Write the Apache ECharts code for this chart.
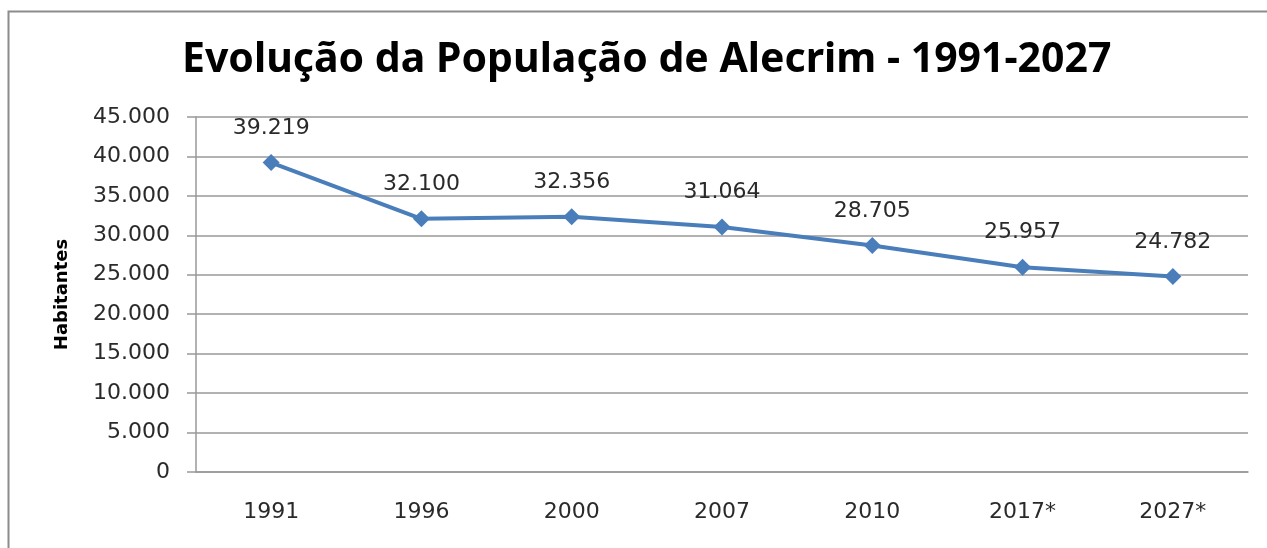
<!DOCTYPE html>
<html>
<head>
<meta charset="utf-8">
<script src="https://cdn.jsdelivr.net/npm/echarts@6/dist/echarts.min.js"></script>
<style>
  html, body { margin: 0; padding: 0; background: #fff; }
  #chart { width: 1267px; height: 548px; }
</style>
</head>
<body>
<div id="chart"></div>
<script>
/* dados */
let anos = ['1991', '1996', '2000', '2007', '2010', '2017*', '2027*'];
let habitantes = [39219, 32100, 32356, 31064, 28705, 25957, 24782];

let fmt = function (v) {
    return String(v).replace(/\B(?=(\d{3})+(?!\d))/g, '.');
};

let myChart = echarts.init(document.getElementById('chart'));
let options = {
    animation: false,
    graphic: [
        {
            type: 'rect',
            shape: { x: 8.5, y: 11.5, width: 1300, height: 600 },
            style: { fill: 'none', stroke: '#8c8c8c', lineWidth: 2 }
        }
    ],
    title: {
        text: 'Evolução da População de Alecrim - 1991-2027',
        left: 177,
        top: 35,
        textStyle: {
            fontFamily: 'Noto Sans',
            fontWeight: 'bold',
            fontSize: 41,
            color: '#000'
        }
    },
    grid: {
        left: 196,
        right: 19,
        top: 117,
        bottom: 76
    },
    xAxis: {
        type: 'category',
        data: anos,
        boundaryGap: true,
        axisLine: { lineStyle: { color: '#999', width: 1.5 } },
        axisTick: { length: 8, lineStyle: { color: '#999', width: 1.5 } },
        axisLabel: {
            margin: 29,
            fontFamily: 'DejaVu Sans',
            fontSize: 22,
            color: '#2a2a2a'
        }
    },
    yAxis: {
        type: 'value',
        min: 0,
        max: 45000,
        interval: 5000,
        name: 'Habitantes',
        nameLocation: 'middle',
        nameGap: 125,
        nameTextStyle: {
            fontFamily: 'DejaVu Sans',
            fontWeight: 'bold',
            fontSize: 18,
            color: '#000'
        },
        axisLine: { show: true, lineStyle: { color: '#999', width: 1.5 } },
        axisTick: { show: true, length: 9, lineStyle: { color: '#999', width: 1.5 } },
        axisLabel: {
            margin: 26,
            fontFamily: 'DejaVu Sans',
            fontSize: 22,
            color: '#2a2a2a',
            formatter: fmt
        },
        splitLine: { lineStyle: { color: '#999', width: 1.5 } }
    },
    series: [
        {
            type: 'line',
            data: habitantes,
            symbol: 'diamond',
            symbolSize: 17,
            lineStyle: { color: '#4a7ebb', width: 4 },
            itemStyle: { color: '#4a7ebb' },
            label: {
                show: true,
                position: 'top',
                distance: 15,
                fontFamily: 'DejaVu Sans',
                fontSize: 22,
                color: '#2a2a2a',
                formatter: function (p) { return fmt(p.value); }
            }
        }
    ]
};
myChart.setOption(options);
</script>
</body>
</html>
